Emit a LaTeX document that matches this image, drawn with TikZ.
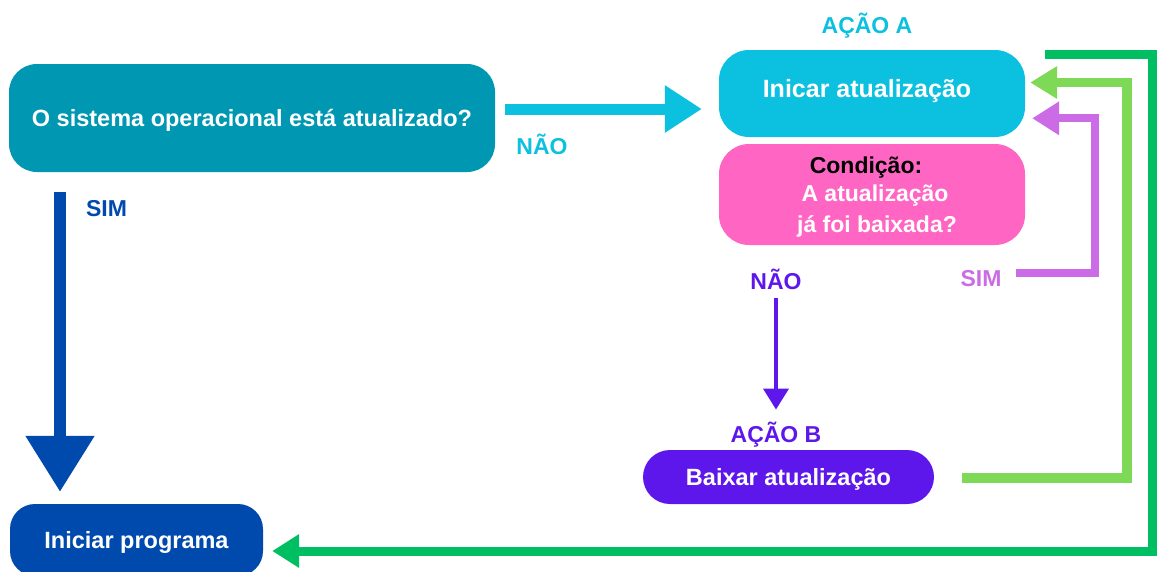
\documentclass[tikz,border=0pt]{standalone}
\usepackage{fontspec}
\setmainfont{Liberation Sans}
\usetikzlibrary{arrows.meta,calc}
\definecolor{tealbox}{HTML}{0097B2}
\definecolor{cyanA}{HTML}{0CC0DF}
\definecolor{pinkC}{HTML}{FF66C4}
\definecolor{purpleB}{HTML}{5E17EB}
\definecolor{blueP}{HTML}{004AAD}
\definecolor{lgreen}{HTML}{7ED957}
\definecolor{dgreen}{HTML}{00BF63}
\definecolor{lav}{HTML}{CB6CE6}
\begin{document}
\begin{tikzpicture}[x=1pt,y=-1pt,
  txt/.style={font=\fontsize{23}{29.5}\selectfont\bfseries},
  boxtxt/.style={font=\fontsize{23.5}{29.5}\selectfont\bfseries},
  box/.style={boxtxt, rounded corners=#1, inner sep=0pt, text=white, align=center,
              text height=16.8pt, text depth=0pt},
  box/.default=28pt,
  lbl/.style={txt, inner sep=0pt, text height=16.5pt, text depth=0pt},
  conn/.style={line join=miter},
]
\useasboundingbox (0,0) rectangle (1157,571);

% boxes
\node[box=28pt, fill=tealbox, minimum width=486pt, minimum height=108pt] (q) at (252,118)
  {O sistema operacional está atualizado?};
\node[box=30pt, fill=cyanA, minimum width=306pt, minimum height=87pt,
      font=\fontsize{25}{30}\selectfont\bfseries, text height=17.9pt, text depth=9pt] (inicar) at (872,93.5)
  {Inicar atualização\hspace*{10pt}};
\node[rounded corners=30pt, fill=pinkC, inner sep=0pt,
      minimum width=306pt, minimum height=101pt] (cond) at (872,194.5) {};
\node[txt, text=white, align=center, inner sep=0pt] (condtxt) at (872,197)
  {\textcolor{black}{Condição:}\hspace*{12pt}\\[-1.5pt]\hspace*{6pt}A atualização\\[1.5pt]\hspace*{10pt}já foi baixada?};
\node[box=27pt, fill=purpleB, minimum width=291pt, minimum height=54pt] (baixar) at (788.5,477)
  {Baixar atualização};
\node[box=25pt, fill=blueP, minimum width=253pt, minimum height=72pt] (iniciar) at (136.5,540)
  {Iniciar programa};

% labels
\node[lbl, text=cyanA] (acaoA) at (867,25) {AÇÃO A};
\node[lbl, text=cyanA] (naoA) at (542,146.5) {NÃO};
\node[lbl, text=blueP] (simA) at (106.5,208.5) {SIM};
\node[lbl, text=purpleB] (naoB) at (776,281.5) {NÃO};
\node[lbl, text=lav] (simB) at (981,278.5) {SIM};
\node[lbl, text=purpleB] (acaoB) at (776,434) {AÇÃO B};

% coordinates
\coordinate (naoY) at (0,109);
\coordinate (simX) at (60,0);

% connectors
\draw[conn, cyanA, line width=11pt, -{Triangle[length=37pt,width=45pt]},
      shorten <=10pt, shorten >=17pt] (q.east |- naoY) -- (inicar.west |- naoY);

\draw[conn, blueP, line width=12pt, -{Triangle[length=56pt,width=66pt]},
      shorten <=20pt, shorten >=12pt] (q.south -| simX) -- (iniciar.north -| simX);

\draw[conn, purpleB, line width=4pt, -{Triangle[length=21pt,width=25pt]},
      shorten <=8.5pt, shorten >=16pt] (naoB.south) -- (acaoB.north);

\draw[conn, lav, line width=8pt, -{Triangle[length=27pt,width=32pt]},
      shorten <=14pt, shorten >=7pt]
  ($(simB.east)+(0,-5.5)$) -- (1095,273) |- ($(inicar.east)+(0,24.8)$);

\draw[conn, lgreen, line width=9.5pt, -{Triangle[length=27pt,width=31pt]},
      shorten <=28pt, shorten >=5pt]
  ($(baixar.east)+(0,1)$) -- (1127,478) |- ($(inicar.east)+(0,-11)$);

\coordinate (dgS) at (1045,54);
\draw[conn, dgreen, line width=9pt, -{Triangle[length=27pt,width=32pt]},
      shorten >=9pt]
  (dgS) -- (1152.5,54) -- (1152.5,551) -- ($(iniciar.east)+(0,11)$);
\end{tikzpicture}
\end{document}
